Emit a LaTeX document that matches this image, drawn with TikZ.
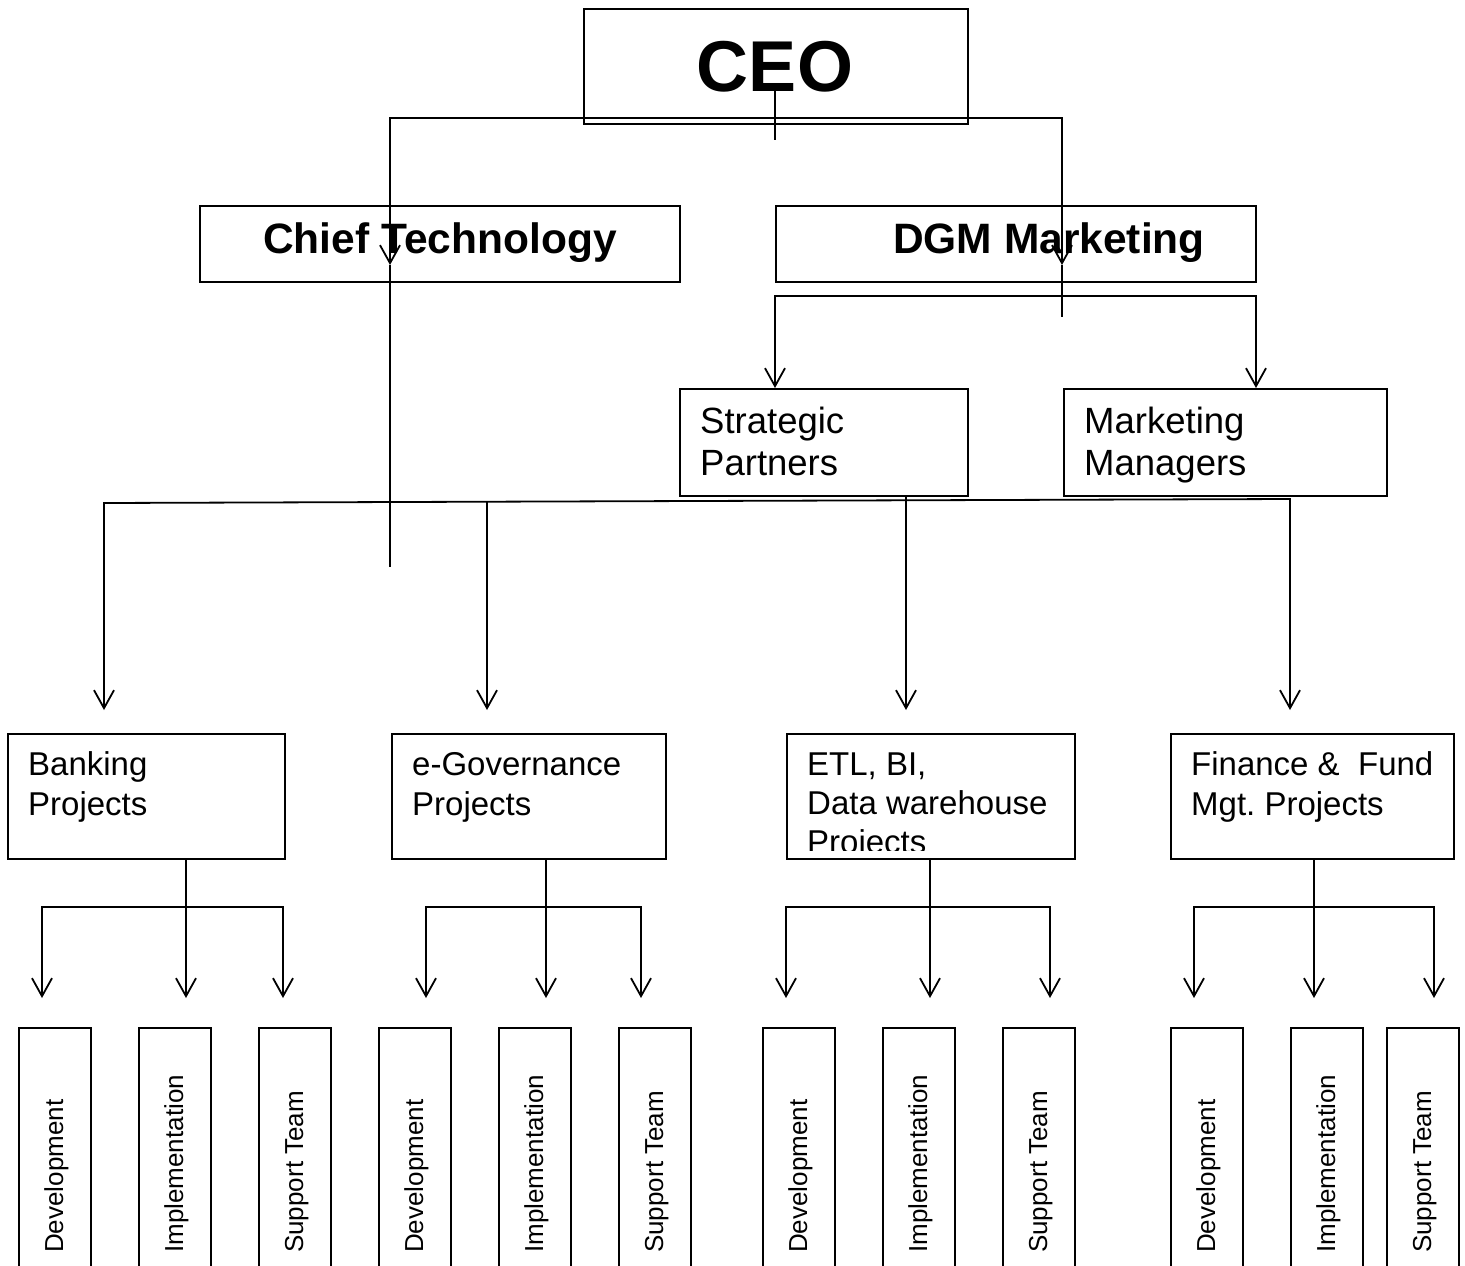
\documentclass[tikz,border=0pt]{standalone}
\usepackage{fontspec}
\setmainfont{Liberation Sans}
\usetikzlibrary{arrows.meta}
\frenchspacing
\begin{document}
\begin{tikzpicture}[x=1pt,y=-1pt,
  box/.style={draw,line width=1.8pt,inner sep=0pt,anchor=north west},
  conn/.style={line width=1.8pt},
  barb/.tip={Straight Barb[length=18pt,width=20pt]},
  arr/.style={conn,-barb},
  arrboth/.style={conn,barb-barb},
  lbl/.style={inner sep=0pt,anchor=base west,font=\fontsize{33}{40}\selectfont},
  lblm/.style={inner sep=0pt,anchor=base west,font=\fontsize{36.5}{42}\selectfont},
  big/.style={inner sep=0pt,anchor=base,font=\fontsize{42.5}{50}\selectfont\bfseries},
  vert/.style={inner sep=0pt,anchor=base west,rotate=90,font=\fontsize{26}{30}\selectfont},
]
\useasboundingbox (0,0) rectangle (1465,1266);
\fill[white] (0,0) rectangle (1465,1266);
\begin{scope}
\clip (0,0) rectangle (1465,1266);

% ---------- CEO ----------
\node[box,minimum width=384pt,minimum height=115pt] (ceo) at (583,8) {};
\node[inner sep=0pt,anchor=base,font=\fontsize{72}{80}\selectfont\bfseries] (ceot) at (775,91) {CEO};

% ---------- level 2 ----------
\node[box,minimum width=480pt,minimum height=76pt] (ct) at (199,205) {};
\node[big] (ctt) at (440,253) {Chief Technology};
\node[box,minimum width=480pt,minimum height=76pt] (dgm) at (775,205) {};
\node[big] (dgmt) at (1049,253) {DGM Marketing};

% CEO connectors
\coordinate (ceoS1) at (775,83);
\coordinate (ceoS2) at (775,140);
\draw[conn] (ceoS1) -- (ceoS2);
\coordinate (ctA) at (390,265);
\coordinate (hL) at (390,118);
\coordinate (hR) at (1062,118);
\coordinate (dgA) at (1062,265);
\draw[arrboth] (ctA) -- (hL) -- (hR) -- (dgA);
\coordinate (ctEnd) at (390,567);
\coordinate (dgEnd) at (1062,317);
\draw[conn] (ctA) -- (ctEnd);
\draw[conn] (dgA) -- (dgEnd);

% ---------- DGM children ----------
\node[box,minimum width=288pt,minimum height=107pt] (sp) at (679,388) {};
\node[lblm] (spt1) at (700,433) {Strategic};
\node[lblm] (spt2) at (700,475) {Partners};
\node[box,minimum width=323pt,minimum height=107pt] (mm) at (1063,388) {};
\node[lblm] (mmt1) at (1084,433) {Marketing};
\node[lblm] (mmt2) at (1084,475) {Managers};

\coordinate (dL) at (775,296);
\coordinate (dR) at (1256,296);
\draw[arrboth] (sp.north -| dL) -- (dL) -- (dR) -- (mm.north -| dR);

% ---------- level 3 ----------
\node[box,minimum width=277pt,minimum height=125pt] (bank) at (7,733) {};
\node[lbl] (bankt1) at (28,775) {Banking};
\node[lbl] (bankt2) at (28,815) {Projects};
\node[box,minimum width=274pt,minimum height=125pt] (egov) at (391,733) {};
\node[lbl] (egovt1) at (412,775) {e-Governance};
\node[lbl] (egovt2) at (412,815) {Projects};
\node[box,minimum width=288pt,minimum height=125pt] (etl) at (786,733) {};
\node[lbl] (etlt1) at (807,775) {ETL, BI,};
\node[lbl] (etlt2) at (807,814) {Data warehouse};
\begin{scope}
\clip (786,733) rectangle (1074,850);
\node[lbl] (etlt3) at (807,853) {Projects};
\end{scope}
\node[box,minimum width=283pt,minimum height=125pt] (fin) at (1170,733) {};
\node[lbl] (fint1) at (1191,775) {Finance \&\ \ Fund};
\node[lbl] (fint2) at (1191,815) {Mgt.\ Projects};

% level 3 connectors
\coordinate (pL) at (104,503);
\coordinate (pR) at (1290,499);
\coordinate (aBank) at (104,710);
\coordinate (aFin) at (1290,710);
\draw[arrboth] (aBank) -- (pL) -- (pR) -- (aFin);
\coordinate (pE) at (487,502);
\coordinate (aEgov) at (487,710);
\draw[arr] (pE) -- (aEgov);
\coordinate (pT) at (906,496);
\coordinate (aEtl) at (906,710);
\draw[arr] (pT) -- (aEtl);

% ---------- level 4 ----------
\foreach \g/\xa/\xb/\xc in {1/18/138/258, 2/378/498/618, 3/762/882/1002, 4/1170/1290/1386} {
  \node[box,minimum width=72pt,minimum height=250pt] (dev\g) at (\xa,1027) {};
  \node[box,minimum width=72pt,minimum height=250pt] (imp\g) at (\xb,1027) {};
  \node[box,minimum width=72pt,minimum height=250pt] (sup\g) at (\xc,1027) {};
  \node[vert] (devt\g) at ({\xa+45},1253) {Development};
  \node[vert] (impt\g) at ({\xb+45},1253) {Implementation};
  \node[vert] (supt\g) at ({\xc+45},1253) {Support Team};
}

\foreach \g/\xl/\xm/\xr in {1/42/186/283, 2/426/546/641, 3/786/930/1050, 4/1194/1314/1434} {
  \coordinate (top\g) at (\xm,858);
  \coordinate (jl\g) at (\xl,907);
  \coordinate (jr\g) at (\xr,907);
  \coordinate (al\g) at (\xl,998);
  \coordinate (ac\g) at (\xm,998);
  \coordinate (ar\g) at (\xr,998);
  \draw[arr] (top\g) -- (ac\g);
  \draw[arrboth] (al\g) -- (jl\g) -- (jr\g) -- (ar\g);
}
\end{scope}
\end{tikzpicture}
\end{document}
